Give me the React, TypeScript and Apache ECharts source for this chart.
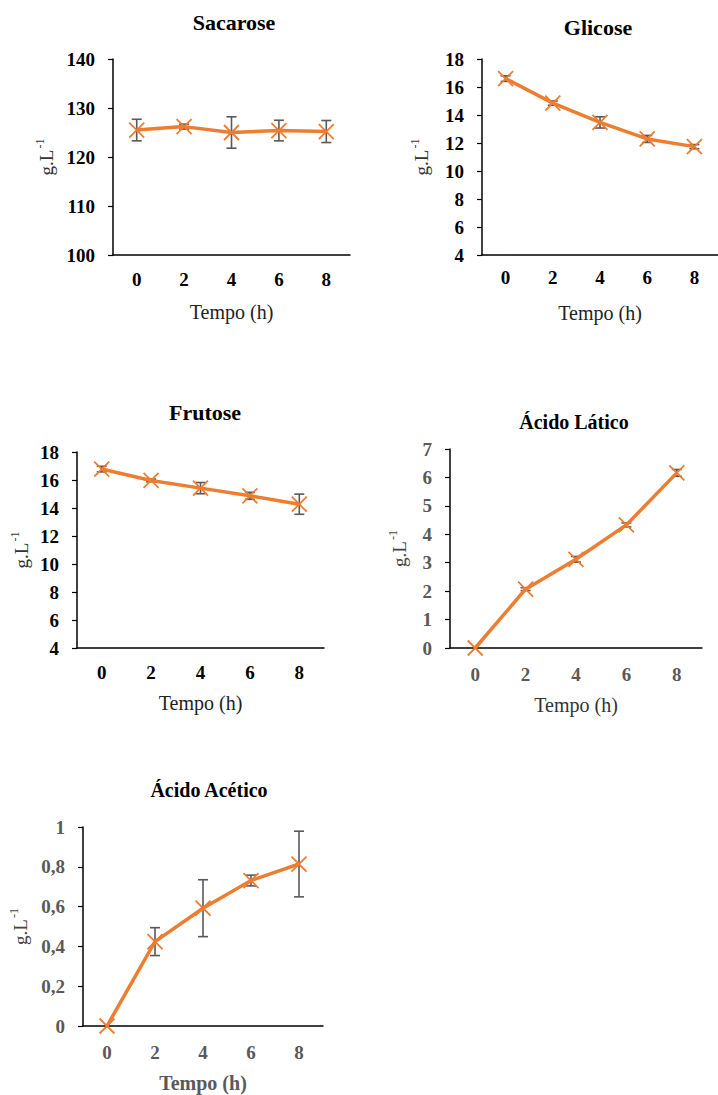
import React, { useEffect, useRef } from "react";
import * as echarts from "echarts";

const hours = ["0", "2", "4", "6", "8"];

const sacaroseMean = [125.5, 126.2, 125.0, 125.4, 125.2];
const sacaroseErr = [2.2, 0.5, 3.2, 2.1, 2.25];
const glicoseMean = [16.6, 14.85, 13.47, 12.29, 11.74];
const glicoseErr = [0.2, 0.15, 0.4, 0.25, 0.15];
const frutoseMean = [16.78, 15.97, 15.42, 14.87, 14.27];
const frutoseErr = [0.2, 0.1, 0.4, 0.25, 0.72];
const laticoMean = [0, 2.07, 3.12, 4.33, 6.16];
const laticoErr = [0, 0.05, 0.1, 0.07, 0.12];
const aceticoMean = [0, 0.424, 0.592, 0.731, 0.814];
const aceticoErr = [0, 0.07, 0.143, 0.027, 0.165];

const titles = ["Sacarose", "Glicose", "Frutose", "Ácido Lático", "Ácido Acético"];
const yRanges = [
  [100, 140, 10],
  [4, 18, 2],
  [4, 18, 2],
  [0, 7, 1],
  [0, 1, 0.2],
];
const xName = "Tempo (h)";

const FONT = "'Liberation Serif', 'DejaVu Serif', serif";
const ORANGE = "#ED7D31";
const GREY = "#595959";

const panels = [
  { mean: sacaroseMean, err: sacaroseErr, grid: { left: 113, top: 59, width: 237, height: 196 }, title: [234, 22, 22], labelColor: "#000", nameColor: "#222", nameBold: false, yNameColor: "#333", yGap: 57, xMargin: 15, nameGap: 47, comma: false },
  { mean: glicoseMean, err: glicoseErr, grid: { left: 482, top: 59, width: 247, height: 196 }, title: [598, 27, 22], labelColor: "#000", nameColor: "#222", nameBold: false, yNameColor: "#333", yGap: 51, xMargin: 13, nameGap: 48, comma: false },
  { mean: frutoseMean, err: frutoseErr, grid: { left: 77, top: 452, width: 247, height: 196 }, title: [205, 412, 22], labelColor: "#000", nameColor: "#222", nameBold: false, yNameColor: "#333", yGap: 46, xMargin: 15, nameGap: 45, comma: false },
  { mean: laticoMean, err: laticoErr, grid: { left: 450, top: 449, width: 252, height: 199 }, title: [574, 422, 20], labelColor: GREY, nameColor: "#333", nameBold: false, yNameColor: "#444", yGap: 41, xMargin: 17, nameGap: 47, comma: false },
  { mean: aceticoMean, err: aceticoErr, grid: { left: 83, top: 827, width: 240, height: 199 }, title: [209, 790, 20], labelColor: GREY, nameColor: GREY, nameBold: true, yNameColor: "#444", yGap: 53, xMargin: 17, nameGap: 47, comma: true },
];

export default function App() {
  const ref = useRef<HTMLDivElement>(null);

  useEffect(() => {
    if (!ref.current) return;
    const chart = echarts.init(ref.current, null, { renderer: "svg" });

    const grids: any[] = [];
    const xAxes: any[] = [];
    const yAxes: any[] = [];
    const series: any[] = [];
    const graphics: any[] = [];

    panels.forEach((p, i) => {
      grids.push({ ...p.grid, containLabel: false });
      xAxes.push({
        type: "category",
        gridIndex: i,
        data: hours,
        boundaryGap: true,
        axisLine: { show: true, lineStyle: { color: "#000", width: 1.5 } },
        axisTick: { show: false },
        axisLabel: {
          color: p.labelColor,
          fontFamily: FONT,
          fontWeight: "bold",
          fontSize: 19,
          margin: p.xMargin,
        },
        name: xName,
        nameLocation: "middle",
        nameGap: p.nameGap,
        nameTextStyle: {
          color: p.nameColor,
          fontFamily: FONT,
          fontSize: 20,
          fontWeight: p.nameBold ? "bold" : "normal",
        },
        splitLine: { show: false },
      });
      const [mn, mx, iv] = yRanges[i];
      yAxes.push({
        type: "value",
        gridIndex: i,
        min: mn,
        max: mx,
        interval: iv,
        axisLine: { show: true, lineStyle: { color: "#000", width: 1.5 } },
        axisTick: { show: true, inside: false, length: 5, lineStyle: { color: "#000", width: 1.2 } },
        splitLine: { show: false },
        axisLabel: {
          color: p.labelColor,
          fontFamily: FONT,
          fontWeight: "bold",
          fontSize: 19,
          margin: 18,
          formatter: (v: number) => {
            const s = String(Math.round(v * 1000) / 1000);
            return p.comma ? s.replace(".", ",") : s;
          },
        },
        name: "{a|g.L}{s|-1}",
        nameLocation: "middle",
        nameRotate: 90,
        nameGap: p.yGap,
        nameTextStyle: {
          rich: {
            a: { fontFamily: FONT, fontSize: 19, color: p.yNameColor, lineHeight: 22, verticalAlign: "bottom" },
            s: { fontFamily: FONT, fontSize: 12, color: p.yNameColor, lineHeight: 22, verticalAlign: "top", padding: [0, 0, 8, 1] },
          },
        },
      });

      const errData = p.mean
        .map((m, k) => [k, m - p.err[k], m + p.err[k], p.err[k]])
        .filter((d) => d[3] > 0);

      series.push({
        type: "custom",
        xAxisIndex: i,
        yAxisIndex: i,
        z: 2,
        silent: true,
        encode: { x: 0, y: [1, 2] },
        data: errData,
        renderItem: (_params: any, api: any) => {
          const x = api.value(0);
          const top = api.coord([x, api.value(2)]);
          const bot = api.coord([x, api.value(1)]);
          const w = 5;
          const st = { stroke: GREY, lineWidth: 1.6 };
          return {
            type: "group",
            children: [
              { type: "line", shape: { x1: top[0], y1: top[1], x2: bot[0], y2: bot[1] }, style: st },
              { type: "line", shape: { x1: top[0] - w, y1: top[1], x2: top[0] + w, y2: top[1] }, style: st },
              { type: "line", shape: { x1: bot[0] - w, y1: bot[1], x2: bot[0] + w, y2: bot[1] }, style: st },
            ],
          };
        },
      });

      series.push({
        type: "line",
        xAxisIndex: i,
        yAxisIndex: i,
        z: 3,
        data: p.mean,
        symbol: "path://M0,0L10,10M10,0L0,10",
        symbolSize: 15,
        showSymbol: true,
        lineStyle: { color: ORANGE, width: 3.5 },
        itemStyle: { color: "rgba(0,0,0,0)", borderColor: ORANGE, borderWidth: 1.8 },
        smooth: false,
      });

      const [tx, ty, tf] = p.title;
      graphics.push({
        type: "text",
        x: tx,
        y: ty,
        style: {
          text: titles[i],
          fontFamily: FONT,
          fontSize: tf,
          fontWeight: "bold",
          fill: "#000",
          align: "center",
          verticalAlign: "middle",
        },
      });
    });

    chart.setOption({
      animation: false,
      backgroundColor: "#fff",
      grid: grids,
      xAxis: xAxes,
      yAxis: yAxes,
      series,
      graphic: graphics,
    });

    return () => chart.dispose();
  }, []);

  return (
    <div
      ref={ref}
      style={{ position: "absolute", left: 0, top: 0, width: 718, height: 1095 }}
    />
  );
}
